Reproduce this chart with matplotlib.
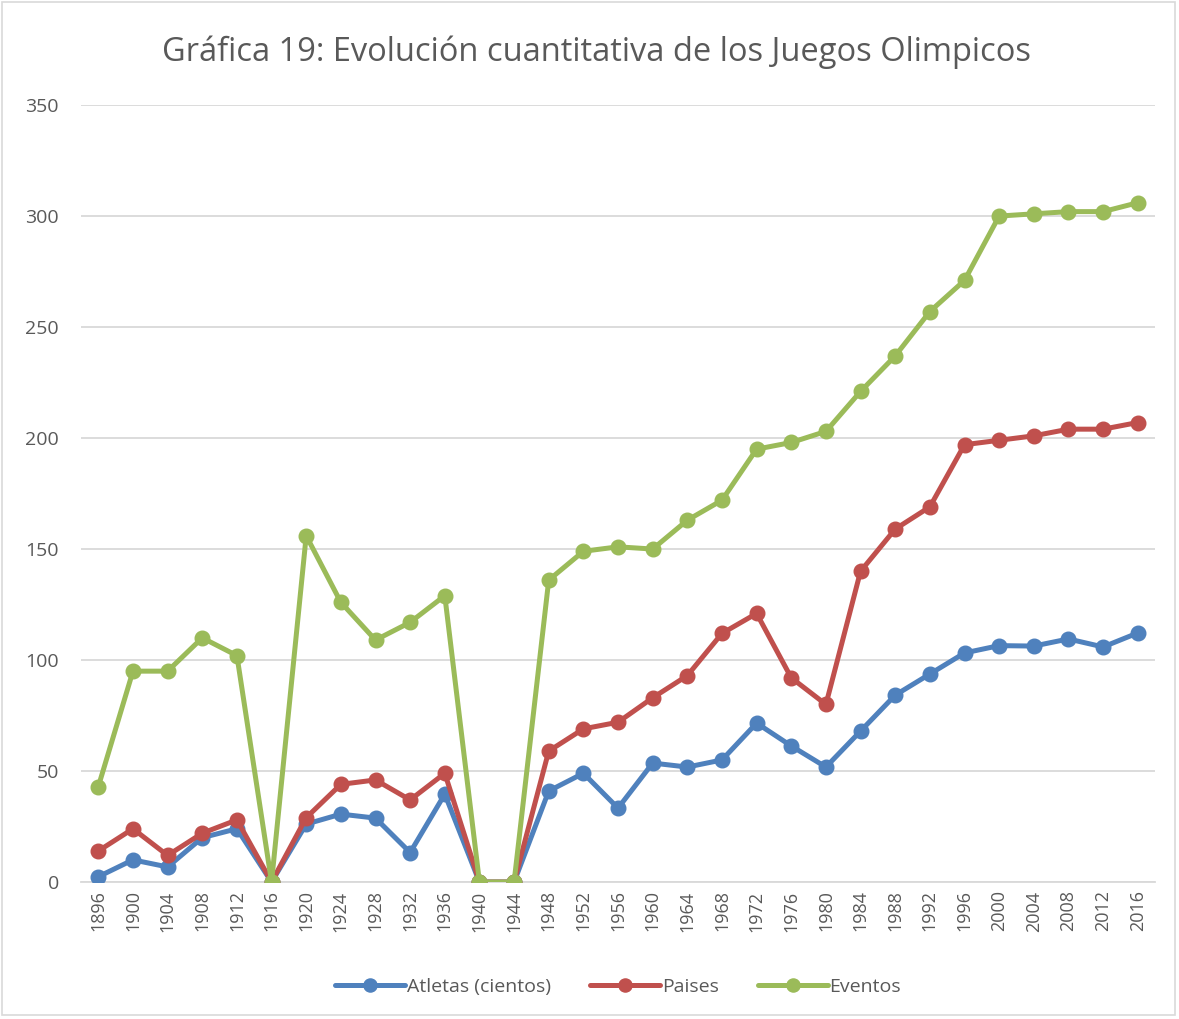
import matplotlib
matplotlib.use("Agg")
import matplotlib.pyplot as plt
from matplotlib.patches import Rectangle

years = ["1896", "1900", "1904", "1908", "1912", "1916", "1920", "1924", "1928", "1932",
         "1936", "1940", "1944", "1948", "1952", "1956", "1960", "1964", "1968", "1972",
         "1976", "1980", "1984", "1988", "1992", "1996", "2000", "2004", "2008", "2012", "2016"]
atletas = [2.4, 10, 6.8, 20, 24, 0, 26.1, 30.6, 28.8, 13.3, 39.6, 0, 0, 41, 49, 33.3,
           53.6, 51.8, 55, 71.6, 61.3, 51.8, 68, 84.2, 93.7, 103.2, 106.5, 106.3, 109.5, 105.9, 112.2]
paises = [14, 24, 12, 22, 28, 0, 29, 44, 46, 37, 49, 0, 0, 59, 69, 72, 83, 93, 112, 121,
          92, 80, 140, 159, 169, 197, 199, 201, 204, 204, 207]
eventos = [43, 95, 95, 110, 102, 0, 156, 126, 109, 117, 129, 0, 0, 136, 149, 151, 150, 163,
           172, 195, 198, 203, 221, 237, 257, 271, 300, 301, 302, 302, 306]
series_names = ["Atletas (cientos)", "Paises", "Eventos"]
colors = ["#4F81BD", "#C0504D", "#9BBB59"]
title = "Gráfica 19: Evolución cuantitativa de los Juegos Olimpicos"

plt.rcParams['font.family'] = ['Open Sans', 'DejaVu Sans']
txt = "#595959"

fig = plt.figure(figsize=(11.79, 10.19), dpi=100)
ax = fig.add_axes([0.0687, 0.1344, 0.911, 0.7625])

x = list(range(len(years)))
for vals, name, c in zip([atletas, paises, eventos], series_names, colors):
    ax.plot(x, vals, color=c, lw=3.6, marker='o', markersize=10.5, label=name,
            solid_capstyle='round', zorder=3)

ax.set_xlim(-0.5, len(years) - 0.5)
ax.set_ylim(0, 350)
ax.set_yticks(range(0, 351, 50))
ax.set_xticks(x)
ax.set_xticklabels(years, rotation=90)
ax.grid(axis='y', color='#d9d9d9', lw=1.3, zorder=0)
ax.set_axisbelow(True)
for s in ['top', 'right', 'left']:
    ax.spines[s].set_visible(False)
ax.spines['bottom'].set_color('#d9d9d9')
ax.spines['bottom'].set_linewidth(1.3)
ax.tick_params(axis='y', length=0, labelsize=14, labelcolor=txt, pad=16)
ax.tick_params(axis='x', length=0, labelsize=13, labelcolor=txt, pad=6)

fig.text(0.506, 0.949, title, ha='center', va='center', fontsize=23.5, color=txt)

ax.legend(loc='center', bbox_to_anchor=(0.5, -0.135), ncol=3, frameon=False,
          fontsize=14, labelcolor=txt, handlelength=3.6, handletextpad=0.1,
          columnspacing=2.0, markerscale=0.9)

fig.patches.append(Rectangle((0.002, 0.004), 0.995, 0.994, transform=fig.transFigure,
                             fill=False, edgecolor='#d9d9d9', lw=1.2))

fig.savefig("out.png", dpi=100, facecolor='white')
